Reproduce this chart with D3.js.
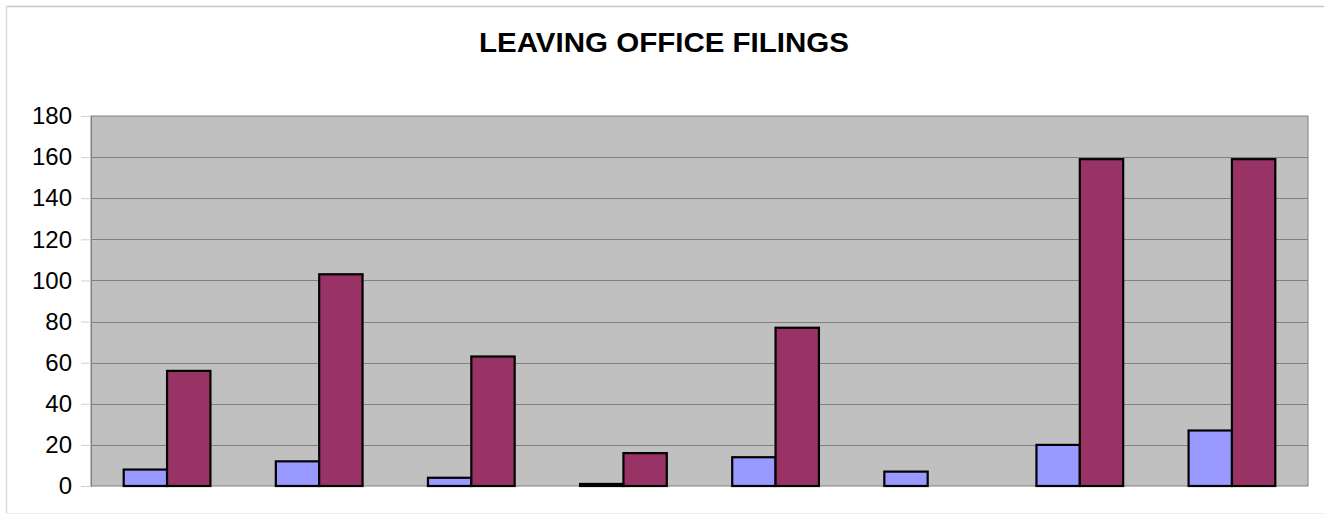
<!DOCTYPE html>
<html><head><meta charset="utf-8">
<script src="https://cdn.jsdelivr.net/npm/d3@7/dist/d3.min.js"></script>
<style>html,body{margin:0;padding:0;background:#fff;}svg{display:block;}</style>
</head><body>
<script>
const title = "LEAVING OFFICE FILINGS";
const categories = ["1","2","3","4","5","6","7","8"];
const seriesNames = ["Series A","Series B"];
const seriesA = [8, 12, 4, 1, 14, 7, 20, 27];
const seriesB = [56, 103, 63, 16, 77, 0, 159, 159];
const yTicks = [0, 20, 40, 60, 80, 100, 120, 140, 160, 180];
const colors = ["#9999FF", "#993366"];

const W = 1324, H = 518;
const m = {left: 91, right: 16, top: 116, bottom: 32};
const svg = d3.select("body").append("svg").attr("width", W).attr("height", H);

// outer frame
svg.append("line").attr("x1",6).attr("x2",W).attr("y1",6.5).attr("y2",6.5).attr("stroke","#c8c8c8").attr("stroke-width",1.5);
svg.append("line").attr("x1",6.5).attr("x2",6.5).attr("y1",6).attr("y2",513).attr("stroke","#dcdcdc").attr("stroke-width",1.5);
svg.append("line").attr("x1",6).attr("x2",W).attr("y1",513.5).attr("y2",513.5).attr("stroke","#eeeeee").attr("stroke-width",1);

const x0 = d3.scaleBand().domain(categories).range([m.left, W - m.right]).paddingInner(0.43).paddingOuter(0.215);
const x1 = d3.scaleBand().domain(seriesNames).range([0, x0.bandwidth()]);
const y = d3.scaleLinear().domain([0, 180]).range([H - m.bottom, m.top]);

// plot area
svg.append("rect").attr("x", m.left).attr("y", y(180)).attr("width", W - m.right - m.left).attr("height", y(0) - y(180))
  .attr("fill", "#C0C0C0").attr("stroke", "#808080").attr("stroke-width", 1);

// gridlines
svg.append("g").selectAll("line").data(yTicks.filter(d => d > 0 && d < 180)).join("line")
  .attr("x1", m.left).attr("x2", W - m.right)
  .attr("y1", d => Math.round(y(d)) + 0.5).attr("y2", d => Math.round(y(d)) + 0.5)
  .attr("stroke", "#808080").attr("stroke-width", 1);

// y axis
const yAxis = d3.axisLeft(y).tickValues(yTicks).tickSize(10).tickPadding(9);
const ga = svg.append("g").attr("transform", `translate(${m.left},0)`).call(yAxis);
ga.select(".domain").attr("stroke", "#808080");
ga.selectAll(".tick line").attr("stroke", "#d0d0d0");
ga.selectAll("text").attr("font-family", "Liberation Sans, Arial, sans-serif").attr("font-size", 24).attr("fill", "#000");

// bars
const data = categories.map((c, i) => ({c, vals: [seriesA[i], seriesB[i]]}));
const g = svg.append("g");
data.forEach(d => {
  d.vals.forEach((v, j) => {
    if (v <= 0) return;
    g.append("rect")
      .attr("x", x0(d.c) + x1(seriesNames[j]))
      .attr("y", y(v))
      .attr("width", x1.bandwidth())
      .attr("height", y(0) - y(v))
      .attr("fill", colors[j])
      .attr("stroke", "#000").attr("stroke-width", 2.2);
  });
});

// title
svg.append("text").attr("x", 664).attr("y", 52).attr("text-anchor", "middle")
  .attr("font-family", "Liberation Sans, Arial, sans-serif").attr("font-weight", "bold")
  .attr("font-size", 28).attr("textLength", 370).attr("lengthAdjust", "spacingAndGlyphs")
  .text(title);
</script>
</body></html>
